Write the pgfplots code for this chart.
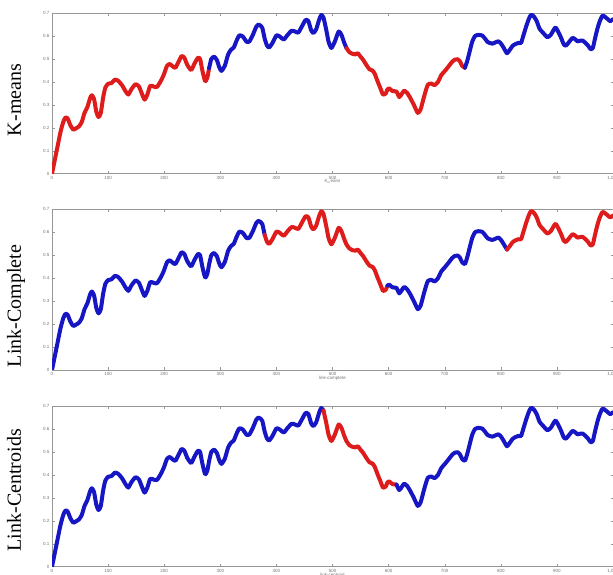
\documentclass[border=0pt]{standalone}
\usepackage{pgfplots}
\pgfplotsset{compat=1.18}
\usepackage{pgfplotstable}
\usepackage{fontspec}
\setmainfont{Liberation Serif}
\newfontfamily\ticksfont{Liberation Sans}

\definecolor{kred}{RGB}{222,28,28}
\definecolor{kblue}{RGB}{22,22,196}
\definecolor{axgray}{RGB}{150,150,150}

% silhouette curve (shared by the three clusterings)
\pgfplotstableread{
x y
0 0.000
5 0.060
10 0.120
15 0.180
20 0.225
24 0.245
28 0.240
33 0.210
38 0.192
43 0.198
48 0.206
53 0.225
58 0.265
63 0.290
68 0.330
71 0.342
75 0.325
79 0.270
83 0.247
87 0.265
91 0.330
95 0.375
100 0.392
106 0.395
112 0.410
118 0.405
125 0.385
131 0.360
136 0.345
142 0.370
149 0.390
155 0.380
160 0.350
165 0.323
170 0.345
175 0.383
181 0.380
187 0.378
193 0.400
199 0.430
205 0.470
210 0.478
215 0.468
220 0.462
226 0.490
231 0.513
236 0.505
241 0.475
248 0.452
254 0.480
260 0.505
264 0.500
268 0.450
273 0.403
277 0.420
280 0.460
284 0.500
289 0.510
294 0.495
298 0.465
302 0.448
308 0.470
314 0.520
319 0.540
324 0.550
329 0.580
334 0.603
340 0.598
347 0.575
352 0.577
358 0.605
364 0.640
368 0.650
372 0.645
375 0.635
379 0.590
383 0.560
387 0.550
393 0.570
400 0.603
406 0.598
413 0.585
420 0.605
427 0.623
433 0.620
439 0.615
445 0.640
452 0.670
457 0.665
462 0.625
466 0.613
471 0.630
476 0.670
480 0.692
484 0.680
489 0.625
493 0.575
498 0.548
504 0.575
511 0.620
516 0.605
521 0.570
525 0.547
530 0.530
536 0.522
541 0.520
545 0.525
550 0.510
555 0.495
560 0.475
566 0.455
571 0.450
575 0.437
580 0.405
585 0.375
590 0.345
595 0.350
598 0.368
601 0.372
607 0.360
614 0.358
619 0.334
624 0.350
628 0.362
633 0.352
638 0.333
645 0.300
652 0.265
657 0.280
662 0.325
666 0.360
670 0.388
676 0.393
682 0.386
688 0.400
694 0.430
700 0.447
706 0.465
713 0.487
718 0.497
723 0.499
727 0.490
731 0.470
736 0.462
740 0.490
744 0.528
749 0.575
754 0.600
760 0.605
767 0.602
772 0.588
777 0.573
785 0.567
791 0.573
796 0.577
801 0.565
806 0.545
811 0.525
816 0.540
821 0.557
826 0.565
831 0.570
836 0.570
840 0.600
845 0.640
850 0.675
854 0.693
859 0.685
864 0.665
869 0.632
875 0.615
883 0.595
889 0.605
895 0.630
898 0.637
902 0.620
907 0.595
912 0.565
916 0.558
922 0.575
928 0.592
933 0.585
937 0.577
942 0.580
946 0.580
950 0.572
955 0.560
960 0.543
964 0.548
968 0.590
972 0.630
976 0.662
981 0.688
985 0.685
990 0.675
995 0.665
1000 0.673
}\curve

\pgfplotsset{
  panel/.style={
    scale only axis, width=561pt, height=160.6pt,
    xmin=0, xmax=1000, ymin=0, ymax=0.7,
    xtick={0,100,...,1000}, ytick={0,0.1,0.2,0.3,0.4,0.5,0.6,0.7},
    tick align=inside, major tick length=2.5pt,
    axis line style={axgray, line width=0.5pt},
    every tick/.style={axgray, line width=0.4pt},
    /pgf/number format/assume math mode=true,
    tick label style={font=\ticksfont\fontsize{4.5}{5}\selectfont, text=black!55},
    yticklabel style={/pgf/number format/fixed, /pgf/number format/precision=1, xshift=1pt},
    xticklabel style={yshift=1pt},
    xlabel style={font=\ticksfont\fontsize{4.5}{5}\selectfont, text=black!55,
      at={(axis description cs:0.5,0)}, anchor=north, yshift=-6pt, inner sep=0pt},
    ylabel style={font=\fontsize{20}{22}\selectfont, anchor=base, inner sep=0pt},
  },
  seg/.style={line width=4pt, line join=round, line cap=round, smooth, tension=0.35},
}

\begin{document}
\begin{tikzpicture}
\clip (0pt,0pt) rectangle (613pt,575pt);

% K-means
\begin{axis}[panel, at={(52pt,401.3pt)}, anchor=south west,
  xlabel={K$_{\mathrm{m}}$eans}, ylabel={K-means},
  ylabel style={at={(axis description cs:-0.0553,0.459)}}]
\addplot[seg, kred]  table[restrict x to domain=0:280]    {\curve};
\addplot[seg, kblue] table[restrict x to domain=280:525]  {\curve};
\addplot[seg, kred]  table[restrict x to domain=525:736]  {\curve};
\addplot[seg, kblue] table[restrict x to domain=736:1000] {\curve};
\end{axis}

% Link-Complete
\begin{axis}[panel, at={(52pt,205pt)}, anchor=south west,
  xlabel={link-complete}, ylabel={Link-Complete},
  ylabel style={at={(axis description cs:-0.0553,0.398)}}]
\addplot[seg, kblue] table[restrict x to domain=0:379]    {\curve};
\addplot[seg, kred]  table[restrict x to domain=379:598]  {\curve};
\addplot[seg, kblue] table[restrict x to domain=598:811]  {\curve};
\addplot[seg, kred]  table[restrict x to domain=811:1000] {\curve};
\end{axis}

% Link-Centroids
\begin{axis}[panel, at={(52pt,8.3pt)}, anchor=south west,
  xlabel={link-centroid}, ylabel={Link-Centroids},
  ylabel style={at={(axis description cs:-0.0553,0.476)}}]
\addplot[seg, kblue] table[restrict x to domain=0:484]    {\curve};
\addplot[seg, kred]  table[restrict x to domain=484:614]  {\curve};
\addplot[seg, kblue] table[restrict x to domain=614:1000] {\curve};
\end{axis}
\end{tikzpicture}
\end{document}
